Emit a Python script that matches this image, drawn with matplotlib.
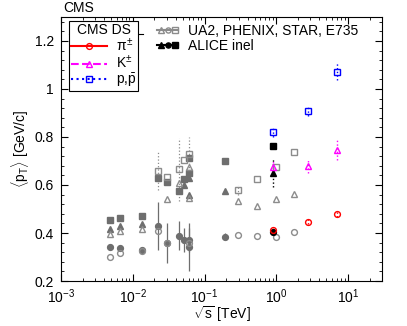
import numpy as np
import matplotlib
matplotlib.use("Agg")
import matplotlib.pyplot as plt
from matplotlib.lines import Line2D
from matplotlib.legend_handler import HandlerTuple
from matplotlib.ticker import AutoMinorLocator, LogLocator, NullFormatter

plt.rcParams['font.family'] = ['Liberation Sans', 'DejaVu Sans']
plt.rcParams['font.size'] = 10
plt.rcParams['mathtext.fontset'] = 'custom'
plt.rcParams['mathtext.rm'] = 'Liberation Sans'
plt.rcParams['mathtext.it'] = 'Liberation Sans'

# CMS DS data (0.9, 2.76, 7 TeV)
cms_x = [0.9, 2.76, 7.0]
cms_pi = [0.4125, 0.447, 0.480]
cms_pi_err = [0.01, 0.01, 0.012]
cms_k = [0.676, 0.679, 0.746]
cms_k_err = [0.03, 0.03, 0.043]
cms_p = [0.820, 0.908, 1.072]
cms_p_err = [0.02, 0.02, 0.035]

# ALICE inel at 0.9 TeV
alice_x = [0.9]
alice_pi = [0.404]
alice_k = [0.651]
alice_k_err = [0.06]
alice_p = [0.761]

# other experiments, filled gray
fsq_x = [0.0048, 0.0067, 0.0136, 0.0223, 0.0304, 0.044, 0.052, 0.0615, 0.0615, 0.194]
fsq_y = [0.453, 0.4625, 0.472, 0.628, 0.6125, 0.575, 0.625, 0.711, 0.65, 0.70]
ftr_x = [0.0048, 0.0067, 0.0136, 0.052, 0.0615, 0.0615, 0.194]
ftr_y = [0.417, 0.429, 0.439, 0.60, 0.63, 0.558, 0.576]
fci_x = [0.0048, 0.0067, 0.0136, 0.0223, 0.0304, 0.044, 0.052, 0.0615, 0.0615, 0.194]
fci_y = [0.343, 0.3375, 0.33, 0.43, 0.358, 0.389, 0.37, 0.372, 0.343, 0.385]
fci_err = [0, 0, 0, 0.1, 0.083, 0.06, 0.05, 0.05, 0.1, 0.015]

# other experiments, open gray
osq_x = [0.0223, 0.0304, 0.044, 0.052, 0.0615, 0.297, 0.536, 1.0, 1.76]
osq_y = [0.658, 0.632, 0.665, 0.703, 0.729, 0.58, 0.626, 0.675, 0.736]
osq_err = [0.08, 0.0, 0.13, 0.0, 0.07, 0.02, 0.0, 0.0, 0.0]
otr_x = [0.0048, 0.0067, 0.0136, 0.0304, 0.044, 0.0615, 0.0615, 0.297, 0.536, 1.0, 1.76]
otr_y = [0.397, 0.407, 0.417, 0.54, 0.61, 0.676, 0.545, 0.533, 0.514, 0.54, 0.5625]
oci_x = [0.0048, 0.0067, 0.0136, 0.0223, 0.0304, 0.0615, 0.297, 0.536, 1.0, 1.76]
oci_y = [0.30, 0.3167, 0.325, 0.41, 0.358, 0.36, 0.39, 0.389, 0.385, 0.403]

fig = plt.figure(figsize=(4.07, 3.26), dpi=100)
ax = fig.add_axes([0.15, 0.138, 0.789, 0.81])

dark = '#6e6e6e'
light = '#8c8c8c'
ms = 4.2

ax.errorbar(fsq_x, fsq_y, fmt='s', color=dark, ms=ms)
ax.errorbar(ftr_x, ftr_y, fmt='^', color=dark, ms=ms)
ax.errorbar(fci_x, fci_y, yerr=fci_err, fmt='o', color=dark, ms=ms, elinewidth=0.9)
eb = ax.errorbar(osq_x, osq_y, yerr=osq_err, fmt='s', color=light, mfc='none', ms=ms + 0.5,
                 elinewidth=0.9)
eb.lines[2][0].set_linestyle(':')
ax.errorbar(otr_x, otr_y, fmt='^', color=light, mfc='none', ms=ms + 0.5)
ax.errorbar(oci_x, oci_y, fmt='o', color=light, mfc='none', ms=ms)

# ALICE
ax.errorbar(alice_x, alice_p, fmt='s', color='black', ms=ms)
eb = ax.errorbar(alice_x, alice_k, yerr=alice_k_err, fmt='^', color='black', ms=ms, elinewidth=1)
eb.lines[2][0].set_linestyle(':')
ax.errorbar(alice_x, alice_pi, fmt='o', color='black', ms=ms)

# CMS DS
eb = ax.errorbar(cms_x, cms_pi, yerr=cms_pi_err, fmt='o', color='red', mfc='none', ms=ms, elinewidth=1)
eb.lines[2][0].set_linestyle(':')
eb = ax.errorbar(cms_x, cms_k, yerr=cms_k_err, fmt='^', color='magenta', mfc='none', ms=ms, elinewidth=1)
eb.lines[2][0].set_linestyle(':')
eb = ax.errorbar(cms_x, cms_p, yerr=cms_p_err, fmt='s', color='blue', mfc='none', ms=ms, elinewidth=1)
eb.lines[2][0].set_linestyle(':')

ax.set_xscale('log')
ax.set_xlim(1e-3, 30)
ax.set_ylim(0.2, 1.3)
ax.set_yticks([0.2, 0.4, 0.6, 0.8, 1.0, 1.2])
ax.set_yticklabels(['0.2', '0.4', '0.6', '0.8', '1', '1.2'])
ax.yaxis.set_minor_locator(AutoMinorLocator(5))
ax.xaxis.set_minor_locator(LogLocator(base=10, subs=np.arange(2, 10)))
ax.xaxis.set_minor_formatter(NullFormatter())
ax.tick_params(which='both', direction='in', top=True, right=True)
ax.tick_params(which='major', length=5)
ax.tick_params(which='minor', length=2.5)
ax.tick_params(axis='x', which='major', pad=4.5)
ax.tick_params(axis='y', which='major', pad=5)

ax.set_xlabel(r'$\sqrt{\rm s}$ [TeV]', labelpad=-1)
ax.set_ylabel(r'$\langle$p$_{\rm T}\rangle$ [GeV/c]', labelpad=3)
fig.text(0.155, 0.975, 'CMS', ha='left', va='center', fontsize=10)

# legend 1: CMS DS
h1 = [Line2D([], [], color='red', ls='-', marker='o', mfc='none', ms=ms),
      Line2D([], [], color='magenta', ls='--', marker='^', mfc='none', ms=ms),
      Line2D([], [], color='blue', ls=':', marker='s', mfc='none', ms=ms)]
leg1 = ax.legend(h1, [r'$\pi^{\pm}$', r'K$^{\pm}$', r'p,$\bar{\rm p}$'], title='CMS DS',
                 loc='upper left', bbox_to_anchor=(0.025, 0.985), borderaxespad=0,
                 fancybox=False, edgecolor='black', framealpha=1, handlelength=2.6,
                 labelspacing=0.0, borderpad=0.15, handletextpad=0.6)
leg1.get_frame().set_linewidth(0.8)
ax.add_artist(leg1)
ax.plot([0.025, 0.255], [0.936, 0.936], color='black', lw=0.8, transform=ax.transAxes)

# legend 2
g = [Line2D([], [], color=light, ls='-', marker=m, mfc='none', ms=ms - 0.5) for m in ['^', 'o', 's']]
b = [Line2D([], [], color='black', ls='-', marker=m, ms=ms - 0.5) for m in ['^', 'o', 's']]
ax.legend([tuple(g), tuple(b)], ['UA2, PHENIX, STAR, E735', 'ALICE inel'],
          handler_map={tuple: HandlerTuple(ndivide=None, pad=0)},
          loc='upper left', bbox_to_anchor=(0.30, 0.975), borderaxespad=0, borderpad=0,
          frameon=False, handlelength=1.5, labelspacing=0.1, handletextpad=0.7)

fig.savefig('out.png', dpi=100)
